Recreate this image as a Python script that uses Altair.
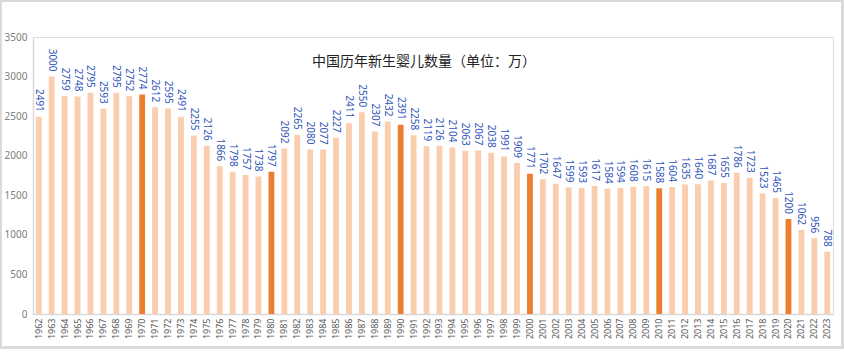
import altair as alt
import pandas as pd

years = list(range(1962, 2024))
births = [2491, 3000, 2759, 2748, 2795, 2593, 2795, 2752, 2774, 2612,
          2595, 2491, 2255, 2126, 1866, 1798, 1757, 1738, 1797, 2092,
          2265, 2080, 2077, 2227, 2411, 2550, 2307, 2432, 2391, 2258,
          2119, 2126, 2104, 2063, 2067, 2038, 1991, 1909, 1771, 1702,
          1647, 1599, 1593, 1617, 1584, 1594, 1608, 1615, 1588, 1604,
          1635, 1640, 1687, 1655, 1786, 1723, 1523, 1465, 1200, 1062,
          956, 788]
highlight_years = [1970, 1980, 1990, 2000, 2010, 2020]
title_text = "中国历年新生婴儿数量（单位：万）"

df = pd.DataFrame({
    "year": [str(y) for y in years],
    "births": births,
    "hl": ["yes" if y in highlight_years else "no" for y in years],
})

x = alt.X("year:N", sort=None,
          scale=alt.Scale(paddingInner=0.55, paddingOuter=0.22),
          axis=alt.Axis(title=None, labelAngle=-90, labelColor="#595959",
                        labelFontSize=9, labelPadding=4, ticks=False,
                        domainColor="#d9d9d9", domainWidth=1.5,
                        labelFont="Noto Sans", labelBaseline="middle"))
y = alt.Y("births:Q", scale=alt.Scale(domain=[0, 3500], nice=False),
          axis=alt.Axis(title=None, values=list(range(0, 3501, 500)),
                        format="d",
                        grid=False, ticks=False, labelColor="#808080",
                        labelFontSize=10, labelPadding=6,
                        domainColor="#d9d9d9", domainWidth=1.5,
                        labelFont="Noto Sans"))

bars = alt.Chart(df).mark_bar().encode(
    x=x, y=y,
    color=alt.Color("hl:N", legend=None,
                    scale=alt.Scale(domain=["no", "yes"],
                                    range=["#F9CDAE", "#ED7D31"])),
)

labels = alt.Chart(df).mark_text(
    angle=90, align="right", baseline="middle", dx=-5,
    fontSize=10, font="Noto Sans", color="#2F55B8",
).encode(x=x, y=y, text="births:Q")

frame = alt.Chart(df).mark_rect(
    fill=None, stroke="#d9d9d9", strokeWidth=1.5
).encode(x=alt.value(-32.5), x2=alt.value(809.5),
         y=alt.value(-36.5), y2=alt.value(310.5))

title = alt.Chart(pd.DataFrame({"t": [title_text]})).mark_text(
    fontSize=14, font="Noto Sans CJK SC", color="#222222",
    align="center", baseline="middle",
).encode(x=alt.value(391), y=alt.value(25), text="t:N")

chart = alt.layer(frame, bars, labels, title).properties(
    width=800, height=277,
    padding={"left": 33, "top": 37, "right": 11, "bottom": 41},
    autosize=alt.AutoSizeParams(type="none"),
).configure_view(stroke=None).configure(background="white")

chart.save("out.html", embed_options={"renderer": "svg", "actions": False})
